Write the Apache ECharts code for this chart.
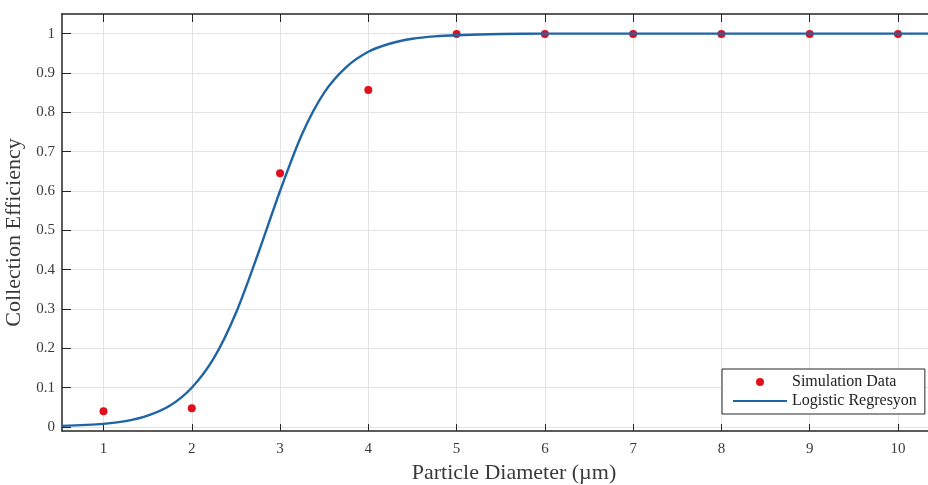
<!DOCTYPE html>
<html>
    <head>
        <meta charset="UTF-8">
        <title></title>
        <script src="https://cdn.jsdelivr.net/npm/echarts@6/dist/echarts.min.js"></script>
        <style>
            html, body { margin: 0; padding: 0; background: #fff; }
        </style>
    </head>
    <body>
        <div id="main" style="width: 928px; height: 485px;"></div>
        <script>
            // simulation points
            var simX = [1, 2, 3, 4, 5, 6, 7, 8, 9, 10];
            var simY = [0.04, 0.048, 0.645, 0.857, 0.999, 0.999, 0.999, 0.999, 0.999, 0.999];

            // fitted curve
            var fitX = [0.53, 1, 1.25, 1.5, 1.75, 2, 2.25, 2.5, 2.75, 3, 3.25, 3.5, 3.75, 4, 4.25, 4.5, 4.75, 5, 5.5, 6, 7, 8, 9, 10, 10.34];
            var fitY = [0.003, 0.008, 0.015, 0.029, 0.054, 0.10, 0.175, 0.29, 0.44, 0.60, 0.745, 0.85, 0.915, 0.954, 0.975, 0.987, 0.993, 0.996, 0.999, 1, 1, 1, 1, 1, 1];

            var xTicks = [1, 2, 3, 4, 5, 6, 7, 8, 9, 10];
            var yTicks = [0, 0.1, 0.2, 0.3, 0.4, 0.5, 0.6, 0.7, 0.8, 0.9, 1];

            var font = 'Liberation Serif';
            var axisColor = '#262626';
            var textColor = '#3a3a3a';
            var gridColor = '#e3e3e3';
            var lineColor = '#1f65a6';

            var simData = simX.map(function (x, i) { return [x, simY[i]]; });
            var fitData = fitX.map(function (x, i) { return [x, fitY[i]]; });

            var chart = echarts.init(document.getElementById('main'));
            chart.setOption({
                animation: false,
                grid: { left: 62, top: 14, right: 0, bottom: 54, outerBoundsMode: 'none', containLabel: false },
                legend: {
                    data: [
                        { name: 'Simulation Data', icon: 'circle' },
                        { name: 'Logistic Regresyon', icon: 'inherit', itemStyle: { opacity: 0 } }
                    ],
                    orient: 'vertical',
                    left: 722,
                    top: 369,
                    padding: [5, 8, 5, 10],
                    itemWidth: 54,
                    itemHeight: 8,
                    itemGap: 3,
                    backgroundColor: '#fff',
                    borderColor: axisColor,
                    borderWidth: 1,
                    borderRadius: 0,
                    textStyle: { fontFamily: font, fontSize: 16, color: '#222' }
                },
                xAxis: [{
                    type: 'value',
                    min: 0.53,
                    max: 10.34,
                    name: 'Particle Diameter (\u00b5m)',
                    nameLocation: 'middle',
                    nameGap: 31,
                    nameTextStyle: { fontFamily: font, fontSize: 22, color: textColor, padding: [0, 0, 0, 38] },
                    axisLine: { onZero: false, lineStyle: { color: axisColor, width: 1.5 } },
                    axisTick: { inside: true, length: 7, customValues: xTicks, lineStyle: { color: axisColor } },
                    axisLabel: { customValues: xTicks, fontFamily: font, fontSize: 15, color: textColor, margin: 11 },
                    splitLine: { show: true, lineStyle: { color: gridColor } }
                }, {
                    type: 'value',
                    position: 'top',
                    min: 0.53,
                    max: 10.34,
                    axisLine: { onZero: false, lineStyle: { color: axisColor, width: 1.5 } },
                    axisTick: { inside: true, length: 8, customValues: xTicks, lineStyle: { color: axisColor } },
                    axisLabel: { show: false },
                    splitLine: { show: false }
                }],
                yAxis: {
                    type: 'value',
                    min: -0.01,
                    max: 1.05,
                    name: 'Collection Efficiency',
                    nameLocation: 'middle',
                    nameGap: 25,
                    nameTextStyle: { fontFamily: font, fontSize: 22, color: textColor, padding: [0, 20, 0, 0] },
                    axisLine: { show: true, onZero: false, lineStyle: { color: axisColor, width: 1.5 } },
                    axisTick: { show: true, inside: true, length: 9, customValues: yTicks, lineStyle: { color: axisColor } },
                    axisLabel: { customValues: yTicks, fontFamily: font, fontSize: 15, color: textColor, margin: 7 },
                    splitLine: { show: true, lineStyle: { color: gridColor } }
                },
                series: [{
                    name: 'Simulation Data',
                    type: 'scatter',
                    data: simData,
                    symbol: 'circle',
                    symbolSize: 8,
                    itemStyle: { color: '#e0101c', opacity: 1 },
                    z: 2
                }, {
                    name: 'Logistic Regresyon',
                    type: 'line',
                    data: fitData,
                    smooth: 0.3,
                    showSymbol: false,
                    symbol: 'none',
                    lineStyle: { color: lineColor, width: 2.4 },
                    itemStyle: { color: lineColor },
                    z: 3
                }]
            });
        </script>
    </body>
</html>
